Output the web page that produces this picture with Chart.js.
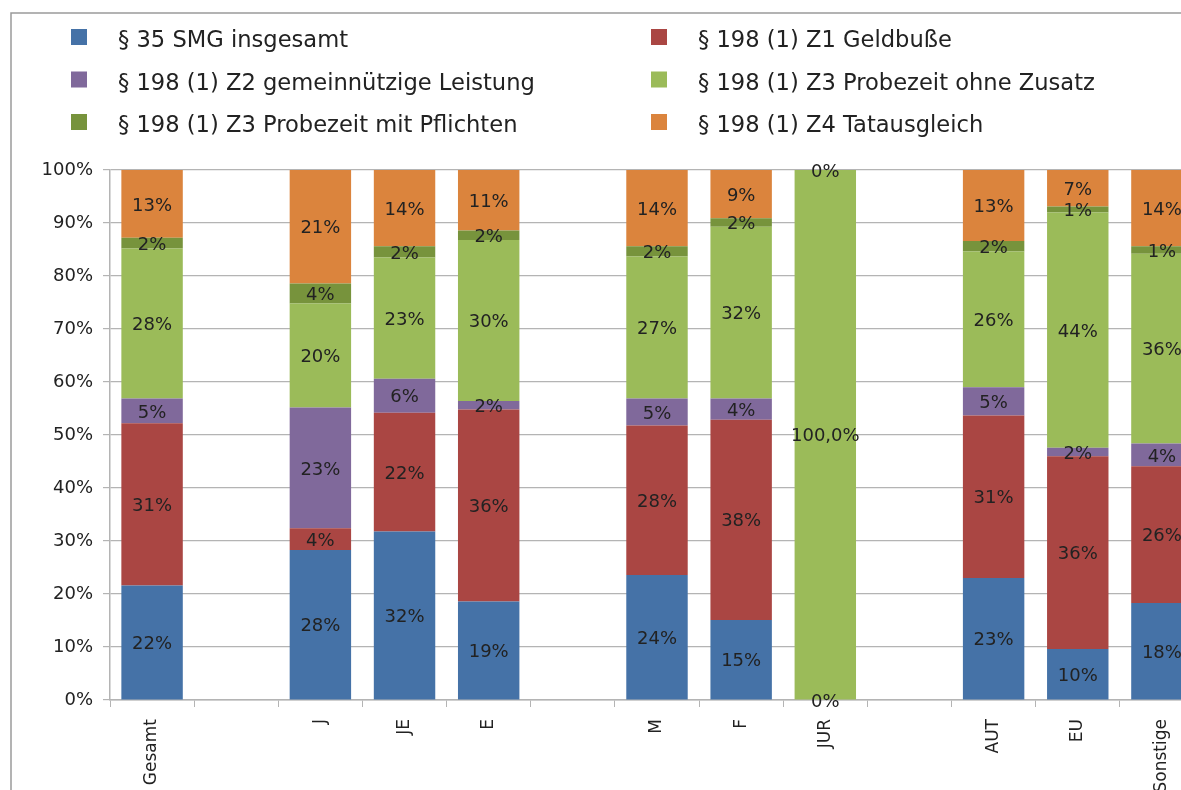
<!DOCTYPE html>
<html lang="de">
<head>
<meta charset="utf-8">
<title>Diversionelle Erledigungen nach Gruppen</title>
<script src="https://cdn.jsdelivr.net/npm/chart.js@4/dist/chart.umd.min.js"></script>
<style>
  html, body { margin: 0; padding: 0; background: #ffffff; overflow: hidden; }
  #wrap { width: 1240px; height: 790px; }
</style>
</head>
<body>
<div id="wrap"><canvas id="chart" width="1240" height="790"></canvas></div>
<script>
// Kategorien (leere Einträge trennen die Gruppen)
const categories = ['Gesamt', '', 'J', 'JE', 'E', '', 'M', 'F', 'JUR', '', 'AUT', 'EU', 'Sonstige'];

// Anteile in Prozent je Erledigungsart
const smg35          = [21.6, null, 28.3, 31.8, 18.6, null, 23.6, 15.1,   0, null, 23.0,  9.6, 18.3];
const z1Geldbusse    = [30.6, null,  4.1, 22.4, 36.2, null, 28.2, 37.8, null, null, 30.7, 36.4, 25.8];
const z2Leistung     = [ 4.7, null, 22.8,  6.4,  1.6, null,  5.1,  4.0, null, null,  5.3,  1.6,  4.3];
const z3OhneZusatz   = [28.3, null, 19.6, 22.9, 30.4, null, 26.8, 32.4, 100, null, 25.6, 44.4, 35.8];
const z3MitPflichten = [ 2.0, null,  3.8,  2.1,  1.8, null,  1.9,  1.6, null, null,  2.0,  1.1,  1.4];
const z4Tatausgleich = [12.8, null, 21.4, 14.4, 11.4, null, 14.4,  9.1,   0, null, 13.4,  6.9, 14.4];

const seriesNames = [
  '§ 35 SMG insgesamt',
  '§ 198 (1) Z1 Geldbuße',
  '§ 198 (1) Z2 gemeinnützige Leistung',
  '§ 198 (1) Z3 Probezeit ohne Zusatz',
  '§ 198 (1) Z3 Probezeit mit Pflichten',
  '§ 198 (1) Z4 Tatausgleich'
];
const seriesValues = [smg35, z1Geldbusse, z2Leistung, z3OhneZusatz, z3MitPflichten, z4Tatausgleich];
const seriesColors = ['#4572A7', '#AA4643', '#80699B', '#9BBB59', '#77933C', '#DB843D'];

const yTicks = [0, 10, 20, 30, 40, 50, 60, 70, 80, 90, 100];

const FONT = '"DejaVu Sans", sans-serif';
const TEXT = '#222222';
const GRID = '#b4b4b4';

Chart.defaults.font.family = FONT;
Chart.defaults.color = TEXT;

// Volle Anteile mit einer Nachkommastelle, sonst gerundet
function fmtPct(v) {
  if (v === 100) return v.toFixed(1).replace('.', ',') + '%';
  return Math.round(v) + '%';
}

// Rahmen des Diagrammbereichs
const framePlugin = {
  id: 'frame',
  beforeDraw(chart) {
    const ctx = chart.ctx;
    ctx.save();
    ctx.strokeStyle = '#9a9a9a';
    ctx.lineWidth = 1.5;
    ctx.beginPath();
    ctx.moveTo(11, chart.height);
    ctx.lineTo(11, 13);
    ctx.lineTo(chart.width, 13);
    ctx.stroke();
    ctx.restore();
  }
};

// Legende in zwei Spalten
const legendPlugin = {
  id: 'twoColLegend',
  afterDraw(chart) {
    const ctx = chart.ctx;
    const colX = [71, 651];
    const textOffset = 47;
    const rowTop = 29;
    const rowStep = 42.5;
    ctx.save();
    ctx.font = '22.6px ' + FONT;
    ctx.textAlign = 'left';
    ctx.textBaseline = 'alphabetic';
    chart.data.datasets.forEach((ds, i) => {
      const col = i % 2;
      const row = Math.floor(i / 2);
      const x = colX[col];
      const y = rowTop + row * rowStep;
      ctx.fillStyle = ds.backgroundColor;
      ctx.fillRect(x, y, 16, 16);
      ctx.fillStyle = TEXT;
      ctx.fillText(ds.label, x + textOffset, y + 18);
    });
    ctx.restore();
  }
};

// Prozentwerte in den Segmenten
const valueLabelPlugin = {
  id: 'valueLabels',
  afterDatasetsDraw(chart) {
    const ctx = chart.ctx;
    ctx.save();
    ctx.font = '18px ' + FONT;
    ctx.fillStyle = TEXT;
    ctx.textAlign = 'center';
    ctx.textBaseline = 'middle';
    chart.data.datasets.forEach((ds, i) => {
      const meta = chart.getDatasetMeta(i);
      meta.data.forEach((bar, j) => {
        const v = ds.data[j];
        if (v === null || v === undefined) return;
        const p = bar.getProps(['x', 'y', 'base'], true);
        ctx.fillText(fmtPct(v), p.x, (p.y + p.base) / 2 + 2);
      });
    });
    ctx.restore();
  }
};

new Chart(document.getElementById('chart'), {
  type: 'bar',
  data: {
    labels: categories,
    datasets: seriesValues.map((vals, i) => ({
      label: seriesNames[i],
      data: vals,
      backgroundColor: seriesColors[i],
      borderWidth: 0,
      categoryPercentage: 1.0,
      barPercentage: 0.73
    }))
  },
  plugins: [framePlugin, legendPlugin, valueLabelPlugin],
  options: {
    responsive: false,
    animation: false,
    layout: { padding: { left: 0, right: 36, top: 170, bottom: 0 } },
    plugins: {
      legend: { display: false },
      tooltip: { enabled: false },
      title: { display: false }
    },
    scales: {
      x: {
        stacked: true,
        grid: {
          offset: true,
          drawOnChartArea: false,
          drawTicks: true,
          tickLength: 7,
          color: GRID
        },
        border: { color: GRID, width: 1.5 },
        ticks: {
          autoSkip: false,
          minRotation: 90,
          maxRotation: 90,
          padding: 12,
          font: { size: 17 },
          color: TEXT
        },
        afterFit(scale) { scale.height = 90; }
      },
      y: {
        stacked: true,
        min: 0,
        max: 100,
        afterBuildTicks(scale) { scale.ticks = yTicks.map(v => ({ value: v })); },
        grid: {
          color: GRID,
          lineWidth: 1.2,
          tickLength: 7
        },
        border: { color: GRID, width: 1.5 },
        ticks: {
          padding: 10,
          font: { size: 18 },
          color: TEXT,
          callback: v => v + '%'
        },
        afterFit(scale) { scale.width = 110; }
      }
    }
  }
});
</script>
</body>
</html>
